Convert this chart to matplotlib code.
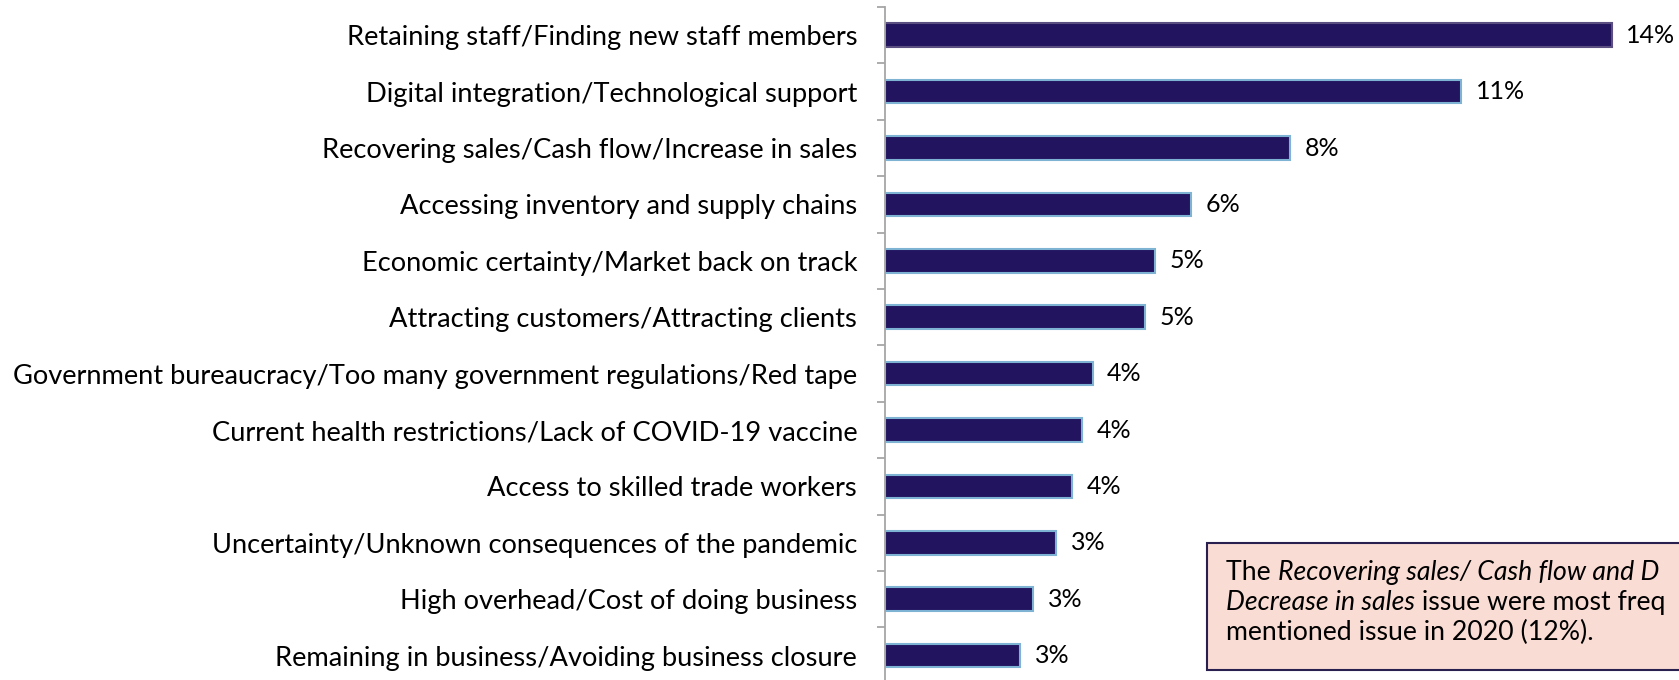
import matplotlib.pyplot as plt
from matplotlib.patches import Rectangle
from matplotlib.ticker import FixedLocator

# Issues listed by share of respondents (top to bottom)
categories = [
    "Retaining staff/Finding new staff members",
    "Digital integration/Technological support",
    "Recovering sales/Cash flow/Increase in sales",
    "Accessing inventory and supply chains",
    "Economic certainty/Market back on track",
    "Attracting customers/Attracting clients",
    "Government bureaucracy/Too many government regulations/Red tape",
    "Current health restrictions/Lack of COVID-19 vaccine",
    "Access to skilled trade workers",
    "Uncertainty/Unknown consequences of the pandemic",
    "High overhead/Cost of doing business",
    "Remaining in business/Avoiding business closure",
]
values = [14.0, 11.1, 7.8, 5.9, 5.2, 5.0, 4.0, 3.8, 3.6, 3.3, 2.85, 2.6]
value_labels = ["14%", "11%", "8%", "6%", "5%", "5%", "4%", "4%", "4%", "3%", "3%", "3%"]

# note box text as far as it is visible on the slide, (piece, style) per line
note_lines = [
    [("The ", "normal"), ("Recovering sales/ Cash flow and D", "italic")],
    [("Decrease in sales", "italic"), (" issue were most freq", "normal")],
    [("mentioned issue in 2020 (12%).", "normal")],
]

FONT = "Lato"
FS = 19.6
FS_VAL = 18
FS_NOTE = 19.2
BAR_COLOR = "#23145f"

plt.rcParams["font.family"] = [FONT, "DejaVu Sans"]

W, H = 1679, 680
fig = plt.figure(figsize=(W / 100, H / 100), dpi=100)

# axes placed in pixel terms: spine at x=885, top tick at y=7
ax_left = 885 / W
ax_top = 1 - 7 / H
ax_h = 12 * 56.4 / H
ax = fig.add_axes([ax_left, ax_top - ax_h, 1 - ax_left, ax_h])

y = list(range(len(categories)))
bars = ax.barh(y, values, height=0.42, color=BAR_COLOR,
               edgecolor="#7fb3d3", linewidth=1.5)
bars[0].set_edgecolor("#5a4f80")

for i, (v, lab) in enumerate(zip(values, value_labels)):
    ax.annotate(lab, xy=(v, i), xytext=(10.5, 0), textcoords="offset points",
                va="center", ha="left", fontsize=FS_VAL, color="black")

ax.set_ylim(len(categories) - 0.5, -0.5)
ax.set_xlim(0, (W - 885) / 51.9)

ax.set_yticks(y)
ax.set_yticklabels(categories, fontsize=FS)
ax.tick_params(axis="y", which="major", length=0, pad=20)
ax.yaxis.set_minor_locator(FixedLocator([k - 0.5 for k in range(len(categories) + 1)]))
ax.tick_params(axis="y", which="minor", length=6, width=1.3, color="#a6a6a6")
ax.set_xticks([])

for s in ["top", "right", "bottom"]:
    ax.spines[s].set_visible(False)
ax.spines["left"].set_color("#a6a6a6")
ax.spines["left"].set_linewidth(1.3)

# Annotation box (runs off the right edge like the original slide)
box = Rectangle((1207, H - 670), 600, 127, transform=None,
                facecolor="#f9dcd3", edgecolor="#2a2050", linewidth=1.5)
fig.patches.append(box)

fig.canvas.draw()
renderer = fig.canvas.get_renderer()

x0 = 1226
baselines = [H - 580, H - 610, H - 640]
for parts, base in zip(note_lines, baselines):
    x = x0
    for txt, style in parts:
        t = fig.text(x / W, base / H, txt, fontsize=FS_NOTE, style=style,
                     ha="left", va="baseline")
        x += t.get_window_extent(renderer).width

fig.savefig("out.png", dpi=100)
